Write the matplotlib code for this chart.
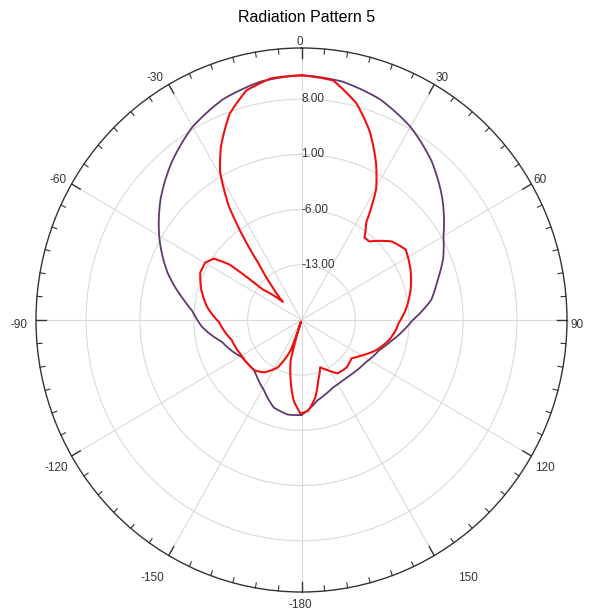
import numpy as np
import matplotlib
matplotlib.use("Agg")
import matplotlib.pyplot as plt

plt.rcParams['font.family'] = ['Liberation Sans', 'DejaVu Sans']

# envelope trace (dark purple): angle in degrees (clockwise from 0 at top), gain in dB
env_deg = [-180, -171.5, -162, -151.5, -143, -136, -128, -121, -105, -94, -85.4, -80.5,
           -71, -61, -50, -40, -30, -20, -10, 0, 10, 20, 30, 40, 50, 60, 67, 74,
           81.4, 90, 95.5, 103, 110.8, 123, 135.5, 145, 154.5, 162, 168.7, 176.2, 180]
env_db = [-7.95, -7.87, -8.33, -9.83, -10.6, -11.15, -11.1, -10.9, -9.3, -7.07, -5.77, -4.5,
          -1.6, 1.1, 3.9, 6.2, 8.3, 9.8, 10.7, 11.05, 10.7, 9.8, 8.3, 6.3, 3.9, 1.3, 0.0, -1.6,
          -2.95, -5.55, -6.65, -8.07, -9.21, -10.1, -10.52, -10.65, -10.52, -10.06, -9.58, -8.48, -7.95]

# measured pattern (red), in the order the trace runs
pat_deg = [0, 7.7, 14.6, 20.2, 26.1, 30.3, 34.2, 38.0, 41.5, 49.7, 56.6, 65.8, 74.9, 84.6,
           91.7, 95.9, 102.7, 111.5, 119.4, 126.7, 135.6, 145.1, 151.6, 158.0, 164.2, 169.7,
           175.6, -179.4, -174.3, -169.6, -164.6, -162, -159.9, -153, -143.8, -136.2, -119.8,
           -105.7, -91.4, -82.3, -73.6, -65.5, -59.8, -55.6, -53.0, -52.5, -52.4, -46.5, -42.2,
           -38, -36, -33.2, -29.4, -25.5, -19.6, -13.8, -7.4]
pat_db = [11.03, 10.67, 8.38, 5.58, 2.04, -0.77, -5.02, -6.72, -6.70, -4.60, -3.78, -4.46, -5.31, -6.40,
          -7.36, -7.67, -8.35, -9.57, -10.9, -11.88, -11.6, -11.75, -12.74, -13.53, -12.03, -10.0,
          -8.47, -8.12, -9.73, -12.2, -14.7, -19.8, -15.9, -13.26, -11.77, -11.15, -11.0,
          -10.58, -9.27, -7.62, -6.42, -5.54, -5.52, -6.22, -8.33, -10.98, -13.7, -16.65, -14.48,
          -11.1, -7.6, -2.75, 1.56, 4.33, 7.79, 9.99, 10.9]

ring_vals = [-13, -6, 1, 8]
ring_labels = ['-13.00', '-6.00', '1.00', '8.00']
angle_vals = [0, 30, 60, 90, 120, 150, 180, 210, 240, 270, 300, 330]
angle_labels = ['0', '30', '60', '90', '120', '150', '-180', '-150', '-120', '-90', '-60', '-30']
# where the angle labels sit (pixels from top-left of the image)
angle_label_px = [(300, 42), (442, 78), (540, 180), (577, 325), (545, 468), (468, 578),
                  (300, 605), (152, 578), (56, 468), (19, 325), (58, 180), (155, 78)]
r_min, r_max = -20, 14.5

W, H = 594, 615
fig = plt.figure(figsize=(W / 100, H / 100), dpi=100)
ax = fig.add_axes([36 / W, 23 / H, 531 / W, 544 / H], projection='polar')
ax.set_aspect('auto')
ax.set_theta_zero_location('N')
ax.set_theta_direction(-1)
ax.set_ylim(r_min, r_max)

ax.set_xticks(np.deg2rad(angle_vals))
ax.set_xticklabels([])
ax.tick_params(axis='x', length=0)
ax.set_yticks(ring_vals)
ax.set_yticklabels([])
ax.tick_params(axis='y', length=0)
ax.grid(True, which='major', color='#dadada', lw=0.8)
ax.spines['polar'].set_edgecolor('#333333')
ax.spines['polar'].set_linewidth(1.0)

# tick marks on the outer ring, every 5 degrees, longer every 30
for a in range(0, 360, 5):
    ln = 1.3 if a % 30 == 0 else 0.65
    ax.plot([np.deg2rad(a)] * 2, [r_max, r_max - ln], color='#333333',
            lw=1.0 if a % 30 == 0 else 0.8, clip_on=False, zorder=5)

env_th = np.unwrap(np.deg2rad(env_deg))
pat_th = np.unwrap(np.deg2rad(pat_deg + pat_deg[:1]))
l1, = ax.plot(env_th, env_db, color='#5e3a6e', lw=1.3, zorder=3)
l2, = ax.plot(pat_th, pat_db + pat_db[:1], color='#f01010', lw=1.5, zorder=4)
for ln_ in (l1, l2):
    ln_.get_path()._interpolation_steps = 20
    ln_._transformed_path = None

for v, lab in zip(ring_vals, ring_labels):
    ax.text(0, v, lab, ha='left', va='center', fontsize=8.5, color='#333333')

for (px, py), lab in zip(angle_label_px, angle_labels):
    fig.text(px / W, 1 - py / H, lab, ha='center', va='center', fontsize=8.5, color='#333333')

fig.text(307 / W, 1 - 18 / H, 'Radiation Pattern 5', ha='center', va='center', fontsize=11.5)

fig.savefig('out.png', dpi=100)
